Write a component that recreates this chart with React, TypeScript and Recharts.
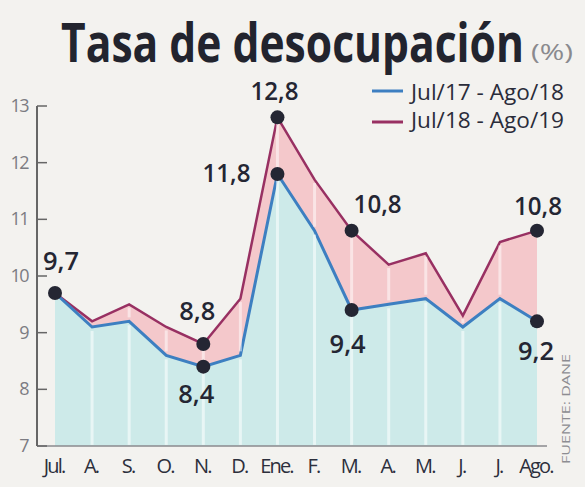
import { ComposedChart, Area, Line, XAxis, YAxis, ReferenceLine } from "recharts";

// Tasa de desocupación (%), DANE
const months = ["Jul.", "A.", "S.", "O.", "N.", "D.", "Ene.", "F.", "M.", "A.", "M.", "J.", "J.", "Ago."];
const serie1718 = [9.7, 9.1, 9.2, 8.6, 8.4, 8.6, 11.8, 10.8, 9.4, 9.5, 9.6, 9.1, 9.6, 9.2];
const serie1819 = [9.7, 9.2, 9.5, 9.1, 8.8, 9.6, 12.8, 11.7, 10.8, 10.2, 10.4, 9.3, 10.6, 10.8];
const yTicks = [7, 8, 9, 10, 11, 12, 13];
const marked1718 = [0, 4, 6, 8, 13];
const marked1819 = [4, 6, 8, 13];

const data = months.map((m, i) => ({ i, m, a: serie1718[i], b: serie1819[i] }));

const BLUE = "#3d7fc1";
const RED = "#983062";
const INK = "#242633";

// label offset from its dot: dx, dy (baseline), anchor
const place1718: Record<number, [number, number, string]> = {
  0: [6, -23, "middle"],
  4: [-7, 36, "middle"],
  6: [-27, 8, "end"],
  8: [-4, 43, "middle"],
  13: [-1, 39, "middle"],
};
const place1819: Record<number, [number, number, string]> = {
  4: [-6, -24, "middle"],
  6: [-3, -17, "middle"],
  8: [26, -18, "middle"],
  13: [1, -16, "middle"],
};

const fmt = (v: number) => v.toFixed(1).replace(".", ",");

function makeDot(marked: number[], place: Record<number, [number, number, string]>) {
  // eslint-disable-next-line @typescript-eslint/no-explicit-any
  return (props: any) => {
    const { cx, cy, index, value } = props;
    if (!marked.includes(index)) return <g key={`n${index}`} />;
    const [dx, dy, anchor] = place[index];
    const v = Array.isArray(value) ? value[1] : value;
    const txt = fmt(v);
    return (
      <g key={`d${index}`}>
        <circle cx={cx} cy={cy} r={7} fill={INK} />
        <text
          x={cx + dx}
          y={cy + dy}
          textAnchor={anchor as "middle" | "end"}
          fontFamily="Open Sans"
          fontWeight={650}
          fontSize={25}
          fill={INK}
          textLength={txt.length * 12}
          lengthAdjust="spacingAndGlyphs"
        >
          {txt}
        </text>
      </g>
    );
  };
}

// eslint-disable-next-line @typescript-eslint/no-explicit-any
const YTick = (props: any) => {
  const { x, y, payload } = props;
  return (
    <g>
      <line x1={x} x2={x + 10} y1={y} y2={y} stroke="#666" strokeWidth={1.5} />
      <text x={x - 9} y={y + 6} textAnchor="end" fontFamily="Open Sans" fontSize={18} fill="#7c7c82" letterSpacing={-1.5}>
        {payload.value}
      </text>
    </g>
  );
};

// eslint-disable-next-line @typescript-eslint/no-explicit-any
const XTick = (props: any) => {
  const { x, y, payload } = props;
  return (
    <text x={x - 1} y={y + 27} textAnchor="middle" fontFamily="Open Sans" fontWeight={500} fontSize={20} fill="#2c2f3c" letterSpacing={-1.8}>
      {months[payload.value]}
    </text>
  );
};

const inner = months.map((_, i) => i).filter((i) => i > 0 && i < months.length - 1);

export default function App() {
  return (
    <div style={{ position: "relative", width: 585, height: 487, background: "#f3f2ef", overflow: "hidden" }}>
      <style>{`body{margin:0}`}</style>
      <ComposedChart width={585} height={487} data={data} margin={{ top: 106, right: 38, bottom: 11, left: 0 }}>
        <XAxis
          dataKey="i"
          type="number"
          domain={[0, 13]}
          ticks={months.map((_, i) => i)}
          padding={{ left: 18, right: 10 }}
          height={30}
          tickSize={0}
          tickMargin={0}
          tickLine={false}
          axisLine={{ stroke: "#8a8a8e", strokeWidth: 1.5 }}
          tick={<XTick />}
          interval={0}
        />
        <YAxis
          type="number"
          domain={[7, 13]}
          ticks={yTicks}
          width={37}
          tickSize={0}
          tickMargin={0}
          tickLine={false}
          axisLine={{ stroke: "#666", strokeWidth: 2 }}
          tick={<YTick />}
          interval={0}
        />
        <Area dataKey="b" baseValue={7} type="linear" stroke={RED} strokeWidth={2.5} fill="#f4c8cb" fillOpacity={1} dot={false} isAnimationActive={false} />
        <Area dataKey="a" baseValue={7} type="linear" stroke={BLUE} strokeWidth={3} fill="#cdeae9" fillOpacity={1} dot={false} isAnimationActive={false} />
        {inner.map((i) => (
          <ReferenceLine
            key={`sa${i}`}
            segment={[{ x: i, y: 7.02 }, { x: i, y: serie1718[i] - 0.07 }]}
            stroke="#ffffff"
            strokeOpacity={0.55}
            strokeWidth={3}
          />
        ))}
        {inner.map((i) =>
          serie1819[i] - serie1718[i] > 0.2 ? (
            <ReferenceLine
              key={`sb${i}`}
              segment={[{ x: i, y: serie1718[i] + 0.07 }, { x: i, y: serie1819[i] - 0.06 }]}
              stroke="#ffffff"
              strokeOpacity={0.5}
              strokeWidth={3}
            />
          ) : null
        )}
        <Line dataKey="a" stroke="none" dot={makeDot(marked1718, place1718)} activeDot={false} isAnimationActive={false} />
        <Line dataKey="b" stroke="none" dot={makeDot(marked1819, place1819)} activeDot={false} isAnimationActive={false} />
      </ComposedChart>

      <svg width={585} height={487} style={{ position: "absolute", left: 0, top: 0, pointerEvents: "none" }}>
        <text
          transform="translate(61 62) scale(0.79 1)"
          x={0}
          y={0}
          fontFamily="Open Sans"
          fontWeight={700}
          fontSize={54}
          fill="#22242e"
          textLength={586}
          lengthAdjust="spacingAndGlyphs"
        >
          Tasa de desocupación
        </text>
        <text x={531} y={60} fontFamily="Open Sans" fontSize={22} fill="#8a8a8e" textLength={42} lengthAdjust="spacingAndGlyphs">
          (%)
        </text>
        <line x1={372} x2={403} y1={91} y2={91} stroke={BLUE} strokeWidth={3} />
        <text x={411} y={100} fontFamily="Open Sans" fontWeight={500} fontSize={21} fill="#2a2c3a" textLength={153} lengthAdjust="spacingAndGlyphs">
          Jul/17 - Ago/18
        </text>
        <line x1={372} x2={403} y1={122} y2={122} stroke={RED} strokeWidth={3} />
        <text x={411} y={128} fontFamily="Open Sans" fontWeight={500} fontSize={21} fill="#2a2c3a" textLength={153} lengthAdjust="spacingAndGlyphs">
          Jul/18 - Ago/19
        </text>
        <text
          transform="translate(570 464) rotate(-90)"
          fontFamily="Open Sans"
          fontSize={11}
          fill="#8d8d92"
          textLength={110}
          lengthAdjust="spacingAndGlyphs"
        >
          FUENTE: DANE
        </text>
      </svg>
    </div>
  );
}
